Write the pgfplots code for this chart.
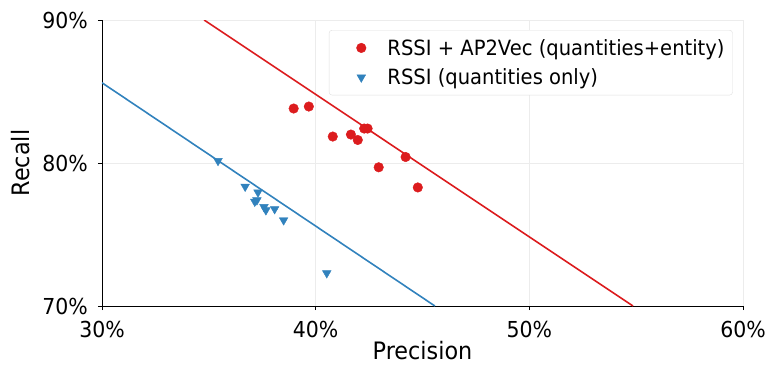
\documentclass[border=0pt]{standalone}
\usepackage{pgfplots}
\pgfplotsset{compat=1.18}
\usepackage{fontspec}
\setmainfont{DejaVu Sans}[FakeStretch=0.93]
\definecolor{cred}{RGB}{220,28,30}
\definecolor{cblue}{RGB}{49,130,189}
\begin{document}
\begin{tikzpicture}
\useasboundingbox (-102pt,-59pt) rectangle (668pt,306pt);
\begin{axis}[
  scale only axis,
  width=641pt, height=286pt,
  xmin=30, xmax=60, ymin=70, ymax=90,
  xtick={30,40,50,60}, xticklabels={30\%,40\%,50\%,60\%},
  ytick={70,80,90}, yticklabels={70\%,80\%,90\%},
  axis x line*=bottom, axis y line*=left,
  axis line style={black, line width=0.9pt, -},
  tick align=outside, major tick length=4pt,
  tick style={black, line width=0.9pt},
  grid=major, major grid style={gray!15, line width=0.9pt},
  x tick label style={font=\fontsize{22}{26}\selectfont, anchor=base, inner sep=0pt, yshift=-27pt},
  y tick label style={font=\fontsize{22}{26}\selectfont, anchor=east, inner sep=0pt, xshift=-10pt},
  xlabel={Precision}, ylabel={Recall},
  every axis x label/.style={at={(axis description cs:0.5,-0.186)}, anchor=base, font=\fontsize{24}{28}\selectfont},
  every axis y label/.style={at={(axis description cs:-0.1264,0.5)}, rotate=90, anchor=center, font=\fontsize{24}{28}\selectfont},
  legend style={at={(0.984,0.965)}, anchor=north east, draw=gray!25, rounded corners=3pt,
    font=\fontsize{21}{25}\selectfont, row sep=8pt, inner xsep=6pt, inner ysep=7pt},
  legend image code/.code={\draw[#1] plot coordinates {(0pt,0pt)}; \path (-26pt,0pt) (24pt,0pt);},
  legend cell align=left,
]
\addplot[cred, line width=1.6pt, forget plot] coordinates {(34.78,90) (54.85,70)};
\addplot[cblue, line width=1.6pt, forget plot] coordinates {(30,85.61) (45.58,70)};
\addplot[only marks, mark=*, mark size=4.8pt, color=cred, mark options={draw=cred, fill=cred}] coordinates {
(38.97,83.81) (39.68,83.95) (40.80,81.85) (41.65,81.99) (41.97,81.61)
(42.27,82.41) (42.43,82.41) (44.21,80.42) (42.95,79.70) (44.78,78.29)};
\addlegendentry{RSSI + AP2Vec (quantities+entity)}
\addplot[only marks, mark=triangle*, mark size=5pt, color=cblue, mark options={rotate=180, draw=cblue, fill=cblue}] coordinates {
(35.43,80.15) (36.70,78.35) (37.30,77.95) (37.15,77.30) (37.25,77.40)
(37.58,76.93) (37.67,76.70) (38.08,76.78) (38.50,76.00) (40.52,72.30)};
\addlegendentry{RSSI (quantities only)}
\end{axis}
\end{tikzpicture}
\end{document}
